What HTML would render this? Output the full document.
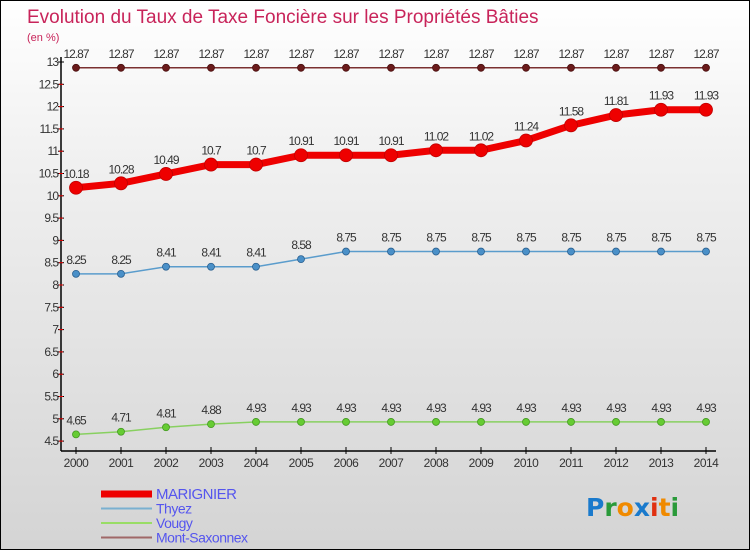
<!DOCTYPE html>
<html><head><meta charset="utf-8"><style>
body{margin:0}
#c{width:748px;height:548px;border:1px solid #000;background:linear-gradient(#fff,#f0f0f0 30%,#d4d4d4);position:relative;overflow:hidden;font-family:"Liberation Sans",sans-serif}
</style></head><body>
<div id="c">
<svg id="s" width="748" height="548"></svg>
</div>
<script>
const years=[2000,2001,2002,2003,2004,2005,2006,2007,2008,2009,2010,2011,2012,2013,2014];
const marignier=[10.18,10.28,10.49,10.7,10.7,10.91,10.91,10.91,11.02,11.02,11.24,11.58,11.81,11.93,11.93];
const thyez=[8.25,8.25,8.41,8.41,8.41,8.58,8.75,8.75,8.75,8.75,8.75,8.75,8.75,8.75,8.75];
const vougy=[4.65,4.71,4.81,4.88,4.93,4.93,4.93,4.93,4.93,4.93,4.93,4.93,4.93,4.93,4.93];
const montSax=[12.87,12.87,12.87,12.87,12.87,12.87,12.87,12.87,12.87,12.87,12.87,12.87,12.87,12.87,12.87];
const yTicks=[4.5,5,5.5,6,6.5,7,7.5,8,8.5,9,9.5,10,10.5,11,11.5,12,12.5,13];
const NS="http://www.w3.org/2000/svg";
const s=document.getElementById('s');
const X=i=>75+i*45;
const Y=v=>61+(13-v)*44.6;
function el(t,a,p){const e=document.createElementNS(NS,t);for(const k in a)e.setAttribute(k,a[k]);(p||s).appendChild(e);return e;}
function tx(x,y,str,a){const e=el('text',Object.assign({x:x,y:y},a));e.textContent=str;return e;}
let t=tx(26,22,'Evolution du Taux de Taxe Foncière sur les Propriétés Bâties',{'font-size':19,fill:'#c8245a'});


t=tx(26,40,'(en %)',{'font-size':11,fill:'#c8245a'});


// axes
let ax=el('line',{x1:60,y1:56,x2:60,y2:450,stroke:'#000','stroke-width':1.5});


ax=el('line',{x1:60,y1:450,x2:715,y2:450,stroke:'#000','stroke-width':1.5});


yTicks.forEach(v=>{
 const y=Y(v);
 const l=el('line',{x1:57,y1:y,x2:63,y2:y,stroke:'#000'});
 
 
 const m=el('line',{x1:58,y1:y+22.3,x2:62,y2:y+22.3,stroke:'#e00'});
 if(v===4.5)m.remove();
 const lb=tx(57,y+4,String(v),{'font-size':12,fill:'#333','text-anchor':'end','letter-spacing':'-1'});
 
 
});
years.forEach((yr,i)=>{
 const l=el('line',{x1:X(i),y1:446,x2:X(i),y2:453,stroke:'#000'});
 
 
 const lb=tx(X(i),466,String(yr),{'font-size':12,fill:'#333','text-anchor':'middle','letter-spacing':'-0.5'});
 
 
});
function series(data,name,color,w,r,dot,stroke){
 const g=el('g',{});
 
 
 const pl=el('polyline',{points:data.map((v,i)=>X(i)+','+Y(v)).join(' '),fill:'none',stroke:color,'stroke-width':w},g);
 
 
 data.forEach((v,i)=>{
  const c=el('circle',{cx:X(i),cy:Y(v),r:r,fill:dot,stroke:stroke,'stroke-width':0.8},g);
  
  
  const lb=tx(X(i),Y(v)-10,String(v),{'font-size':12,fill:'#333','text-anchor':'middle','letter-spacing':'-1'},g);
  
  
 });
}
series(montSax,'mont-saxonnex','#7a3030',1.5,3.5,'#6a1a1a','#4a1010');
series(vougy,'vougy','#88d060',1.5,3.5,'#66cc33','#449922');
series(thyez,'thyez','#5a9ccc',1.5,3.5,'#4a90c8','#2a6090');
series(marignier,'marignier','#ee0000',7,6.5,'#ee0000','#c00000');
// legend
const leg=[['MARIGNIER','#ee0000',7,15],['Thyez','#7ab0d0',2,14],['Vougy','#99dd66',2,14],['Mont-Saxonnex','#a06868',2,14]];
leg.forEach((d,i)=>{
 const y=493+i*14.5;
 const g=el('g',{});
 
 
 el('line',{x1:100,y1:y,x2:151,y2:y,stroke:d[1],'stroke-width':d[2]},g);
 tx(155,y+5,d[0],{'font-size':d[3],fill:'#5555ee','letter-spacing':'-0.5'},g);
});
// logo
const lg=el('text',{x:585,y:515,'font-size':25,'font-weight':'bold','font-family':'"DejaVu Sans",sans-serif'});


[['P','#1a7acc'],['r','#2a9a3a'],['o','#f08a00'],['x','#1a7acc'],['i','#e03010'],['t','#f08a00'],['i','#2a9a3a']].forEach(p=>{const ts=el('tspan',{fill:p[1]},lg);ts.textContent=p[0];});
</script>
</body></html>
